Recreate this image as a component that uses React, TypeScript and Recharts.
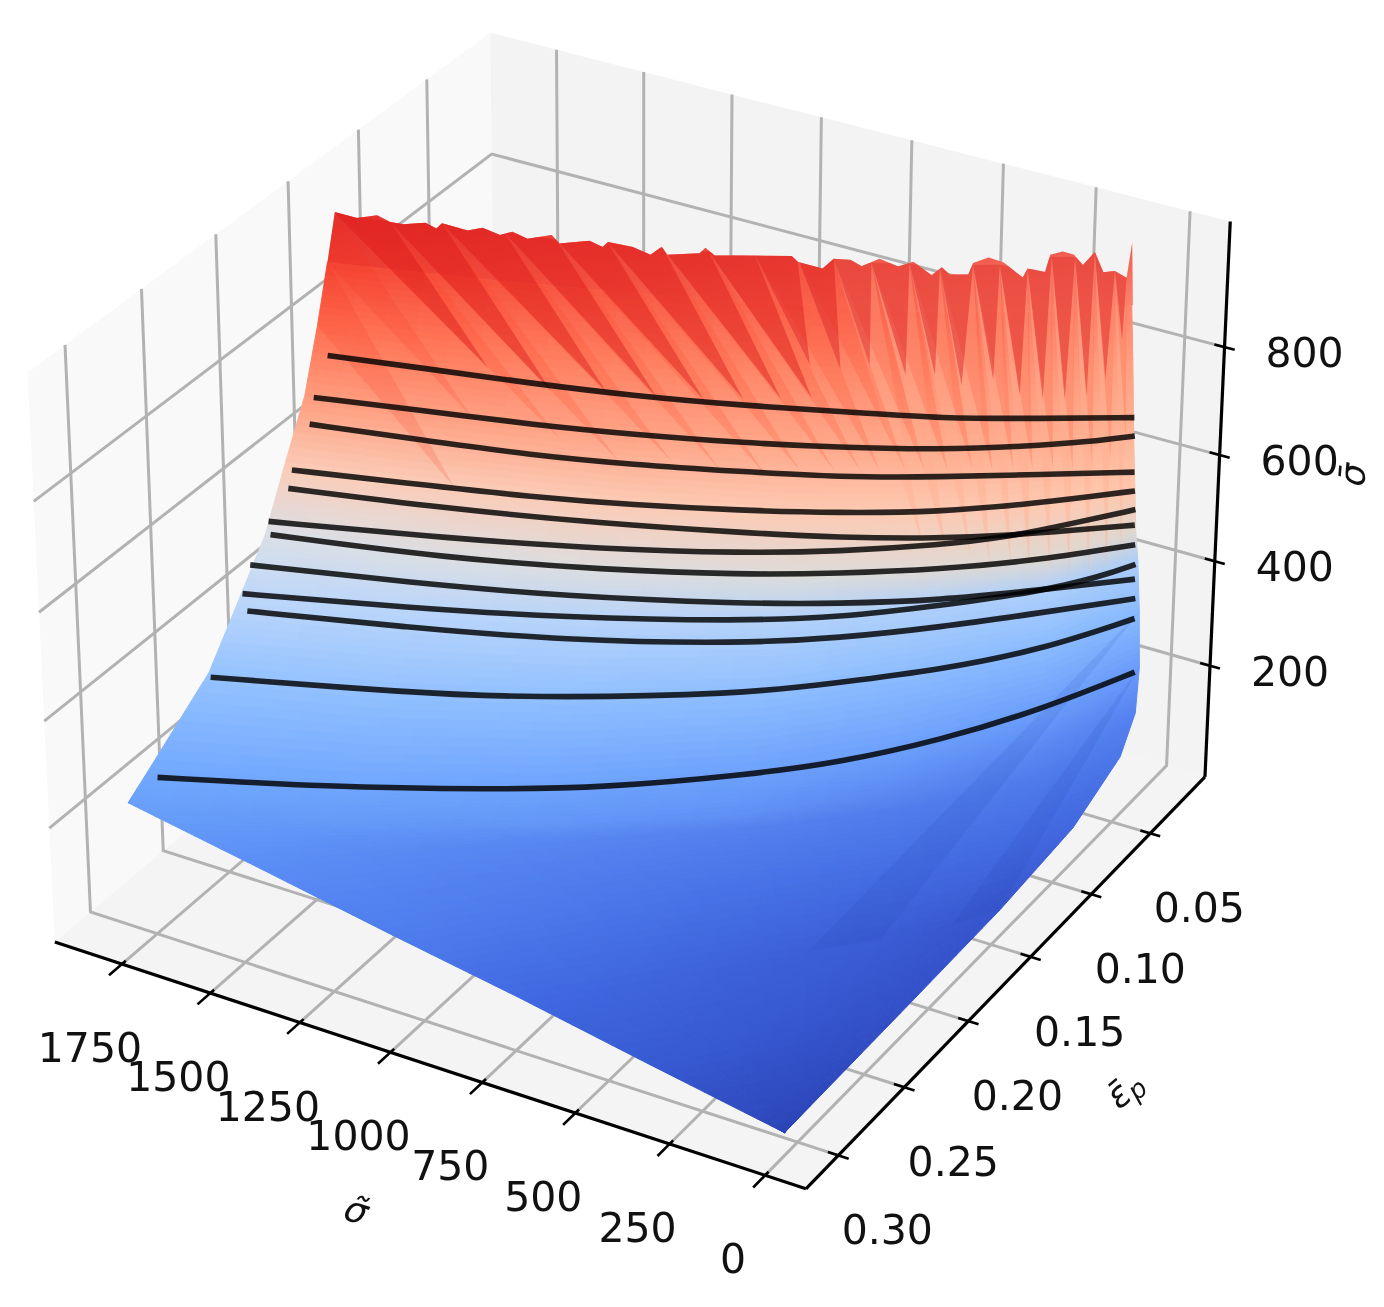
import { Curve, Line, LineChart, XAxis, YAxis } from "recharts"

// Axis limits and tick labels of the 3D box
const sigmaLimits = [-106, 1942]
const epsLimits = [0.0024, 0.324]
const stressLimits = [-16.6, 1028.4]
const sigmaTicks = [0, 250, 500, 750, 1000, 1250, 1500, 1750]
const epsTicks = [0.05, 0.1, 0.15, 0.2, 0.25, 0.3]
const epsTickLabels = ["0.05", "0.10", "0.15", "0.20", "0.25", "0.30"]
const stressTicks = [200, 400, 600, 800]

// Surface, read row by row from the bottom corner up to the rim
const rowSigma = [
  [17, 17, 17, 17, 17, 17, 17],
  [386, 313, 238, 164, 109, 53, 17],
  [744, 599, 453, 308, 199, 90, 17],
  [1094, 879, 664, 449, 286, 124, 17],
  [1457, 1169, 881, 593, 377, 161, 17],
  [1819, 1458, 1098, 736, 466, 196, 17],
  [1819, 1446, 1085, 722, 451, 179, 17],
  [1819, 1459, 1098, 738, 466, 197, 17],
  [1819, 1458, 1099, 737, 466, 198, 17],
  [1819, 1459, 1099, 737, 468, 197, 17],
  [1819, 1459, 1099, 739, 468, 199, 17],
  [1819, 1458, 1100, 739, 467, 197, 17],
  [1819, 1459, 1096, 736, 464, 198, 17],
  [1819, 1458, 1097, 734, 461, 196, 17],
]
const rowEps = [
  [0.305, 0.305, 0.305, 0.305, 0.305, 0.305, 0.305],
  [0.301, 0.283, 0.265, 0.246, 0.232, 0.217, 0.207],
  [0.298, 0.268, 0.237, 0.205, 0.18, 0.155, 0.138],
  [0.298, 0.257, 0.215, 0.171, 0.137, 0.102, 0.078],
  [0.298, 0.25, 0.201, 0.149, 0.109, 0.067, 0.039],
  [0.3, 0.25, 0.197, 0.142, 0.099, 0.056, 0.027],
  [0.285, 0.235, 0.184, 0.131, 0.091, 0.05, 0.025],
  [0.243, 0.202, 0.159, 0.116, 0.082, 0.049, 0.027],
  [0.22, 0.183, 0.146, 0.107, 0.078, 0.049, 0.03],
  [0.202, 0.169, 0.135, 0.1, 0.075, 0.049, 0.033],
  [0.188, 0.157, 0.126, 0.096, 0.072, 0.05, 0.035],
  [0.172, 0.144, 0.117, 0.09, 0.07, 0.05, 0.038],
  [0.162, 0.136, 0.111, 0.087, 0.069, 0.052, 0.041],
  [0.154, 0.13, 0.107, 0.085, 0.069, 0.053, 0.044],
]
const rowStress = [
  [10, 10, 10, 10, 10, 10, 10],
  [42, 32, 25, 19, 15, 15, 14],
  [78, 62, 50, 35, 22, 14, 18],
  [120, 111, 93, 68, 43, 28, 34],
  [166, 151, 118, 83, 69, 61, 81],
  [218, 145, 89, 56, 62, 92, 139],
  [248, 188, 144, 121, 127, 166, 222],
  [335, 282, 247, 232, 249, 279, 333],
  [429, 394, 364, 351, 366, 386, 434],
  [504, 461, 432, 420, 427, 448, 500],
  [598, 566, 540, 526, 531, 552, 578],
  [701, 670, 647, 642, 644, 659, 686],
  [810, 788, 776, 771, 773, 791, 822],
  [910, 895, 887, 890, 894, 911, 937],
]

// Jagged rim of the surface
const rimSigma = [1819, 1769, 1724, 1695, 1666, 1616, 1589, 1577, 1521, 1487, 1446, 1419, 1385, 1329, 1311, 1243, 1214, 1203, 1146, 1108, 1081, 1069, 995, 983, 961, 904, 787, 773, 717, 694, 656, 629, 588, 548, 514, 471, 448, 430, 390, 378, 344, 310, 265, 256, 216, 204, 175, 152, 130, 103, 85, 58, 30, 19, 17]
const rimEps = [0.148, 0.145, 0.142, 0.14, 0.138, 0.135, 0.134, 0.133, 0.129, 0.127, 0.125, 0.123, 0.121, 0.118, 0.117, 0.113, 0.111, 0.11, 0.107, 0.104, 0.103, 0.102, 0.098, 0.097, 0.096, 0.093, 0.086, 0.085, 0.082, 0.08, 0.078, 0.077, 0.075, 0.072, 0.07, 0.068, 0.067, 0.066, 0.063, 0.063, 0.061, 0.059, 0.057, 0.056, 0.054, 0.054, 0.053, 0.051, 0.05, 0.049, 0.047, 0.046, 0.045, 0.045, 0.043]
const rimStress = [990, 982, 989, 978, 975, 981, 973, 983, 972, 979, 969, 976, 965, 976, 962, 971, 961, 970, 965, 952, 969, 955, 963, 973, 961, 965, 971, 961, 953, 971, 972, 963, 980, 967, 978, 957, 974, 962, 963, 986, 998, 991, 968, 984, 981, 1014, 1023, 1018, 1001, 1027, 990, 995, 986, 1050, 935]

// Darker facets running down from the rim: start points, then where each one ends
const toothSigma = [1819, 1695, 1577, 1440, 1320, 1205, 1078, 974, 871, 776, 694, 606, 521, 453, 378, 317, 256, 200, 148, 103, 58, 30]
const toothEps = [0.148, 0.14, 0.133, 0.124, 0.117, 0.11, 0.103, 0.097, 0.091, 0.085, 0.08, 0.076, 0.071, 0.067, 0.063, 0.06, 0.056, 0.054, 0.051, 0.049, 0.046, 0.045]
const toothStress = [988, 978, 983, 975, 967, 970, 967, 968, 971, 971, 971, 971, 976, 972, 983, 988, 982, 1011, 1014, 1027, 995, 986]
const shortTipSigma = [1429, 1283, 1165, 1053, 951, 866, 784, 717, 727, 661, 596, 519, 453, 394, 326, 267, 218, 169, 121, 82, 45]
const shortTipEps = [0.139, 0.131, 0.122, 0.114, 0.106, 0.1, 0.094, 0.089, 0.088, 0.083, 0.079, 0.073, 0.069, 0.065, 0.06, 0.056, 0.052, 0.049, 0.046, 0.043, 0.042]
const shortTipStress = [756, 723, 727, 720, 717, 723, 727, 730, 787, 781, 793, 778, 781, 765, 777, 752, 745, 747, 758, 788, 865]
const longTipSigma = [1247, 1115, 1001, 896, 800, 727, 653, 600, 557, 504, 462, 413, 362, 318, 275, 233, 191, 148, 108, 70, 38]
const longTipEps = [0.134, 0.126, 0.117, 0.109, 0.101, 0.095, 0.089, 0.084, 0.081, 0.076, 0.073, 0.069, 0.064, 0.061, 0.057, 0.054, 0.05, 0.047, 0.043, 0.04, 0.038]
const longTipStress = [647, 615, 617, 605, 598, 607, 608, 609, 610, 611, 611, 612, 613, 613, 614, 615, 616, 616, 617, 637, 676]
// Pale stripes reaching lower down on the right hand side
const deepTipStress = [470, 460, 450, 440, 440, 430, 430, 420, 420, 430, 460]

// Facets starting on the left edge, three corners each
const leftFacetSigma = [1819, 1819, 1458, 1819, 1819, 1459]
const leftFacetEps = [0.154, 0.148, 0.144, 0.162, 0.154, 0.157]
const leftFacetStress = [910, 988, 670, 810, 910, 566]

// Darker stripes fanning along the lower right edge, three corners each
const fanSigma = [17, 17, 90, 17, 199, 308]
const fanEps = [0.025, 0.138, 0.155, 0.027, 0.18, 0.205]
const fanStress = [222, 18, 14, 333, 22, 35]

// The twelve measured curves lying on the surface
const curveSigma = [
  [1784, 1585, 1328, 1107, 872, 617, 437, 222, 17],
  [1798, 1568, 1311, 1093, 862, 647, 433, 256, 113, 17],
  [1791, 1553, 1299, 1083, 854, 641, 429, 218, 17],
  [1804, 1531, 1281, 1068, 842, 633, 424, 251, 111, 17],
  [1799, 1458, 1121, 835, 627, 420, 276, 146, 17],
  [1821, 1442, 1111, 829, 624, 419, 282, 146, 17],
  [1808, 1431, 1100, 821, 618, 415, 212, 17],
  [1827, 1493, 1165, 810, 609, 409, 209, 17],
  [1818, 1475, 1153, 803, 605, 408, 209, 88, 17],
  [1793, 1462, 1142, 795, 600, 404, 207, 17],
  [1807, 1411, 1181, 772, 586, 396, 203, 17],
  [1793, 1475, 1188, 976, 718, 558, 379, 197, 17],
]
const curveEps = [
  [0.164, 0.15, 0.133, 0.118, 0.101, 0.082, 0.069, 0.053, 0.038],
  [0.171, 0.155, 0.137, 0.121, 0.104, 0.087, 0.07, 0.055, 0.044, 0.037],
  [0.176, 0.159, 0.141, 0.124, 0.106, 0.088, 0.07, 0.052, 0.036],
  [0.186, 0.165, 0.146, 0.128, 0.109, 0.09, 0.071, 0.055, 0.043, 0.035],
  [0.19, 0.164, 0.136, 0.11, 0.091, 0.072, 0.058, 0.046, 0.034],
  [0.199, 0.168, 0.138, 0.112, 0.092, 0.072, 0.059, 0.046, 0.034],
  [0.201, 0.171, 0.141, 0.114, 0.094, 0.073, 0.052, 0.033],
  [0.211, 0.183, 0.153, 0.117, 0.096, 0.074, 0.052, 0.032],
  [0.219, 0.188, 0.156, 0.119, 0.097, 0.074, 0.052, 0.039, 0.032],
  [0.222, 0.192, 0.16, 0.121, 0.098, 0.075, 0.052, 0.031],
  [0.245, 0.205, 0.179, 0.127, 0.101, 0.076, 0.052, 0.031],
  [0.286, 0.246, 0.206, 0.175, 0.134, 0.109, 0.08, 0.053, 0.029],
]
const curveStress = [
  [765, 751, 734, 722, 713, 708, 704, 711, 720],
  [699, 686, 669, 659, 652, 648, 649, 657, 670, 684],
  [661, 642, 623, 611, 604, 596, 599, 606, 615],
  [594, 575, 559, 547, 540, 535, 537, 550, 566, 578],
  [569, 542, 519, 502, 492, 490, 494, 503, 512],
  [522, 498, 477, 469, 469, 478, 491, 516, 541],
  [504, 469, 447, 434, 433, 435, 447, 473],
  [465, 437, 410, 388, 382, 380, 391, 406],
  [430, 404, 379, 361, 359, 370, 388, 412, 434],
  [409, 378, 347, 324, 323, 332, 348, 367],
  [332, 294, 272, 245, 248, 255, 278, 329],
  [239, 195, 158, 134, 119, 118, 132, 166, 222],
]

// Surface colours per row, at its left end and its right end
const rowColorLeft = [[44, 69, 184], [55, 90, 210], [65, 105, 225], [78, 125, 238], [90, 140, 245], [105, 160, 250], [115, 170, 255], [150, 195, 255], [190, 215, 250], [218, 224, 232], [250, 205, 185], [255, 155, 125], [255, 110, 80], [245, 70, 52]]
const rowColorRight = [[44, 69, 184], [50, 80, 200], [55, 85, 205], [65, 102, 222], [75, 118, 232], [85, 130, 240], [105, 155, 250], [135, 185, 255], [170, 205, 250], [225, 215, 205], [255, 200, 175], [255, 180, 150], [255, 160, 130], [255, 135, 110]]

const W = 1384
const H = 1307
const FONT = "'DejaVu Sans'"

// Same camera matplotlib uses for elev=30, azim=-60, looking at a 4:4:3 box
const boxScale = (1.8294640721620434 * 25) / 24 / Math.sqrt(41)
const pxPerX = 7228
const pxPerY = 7270
const xDomain = [-640.5 / pxPerX, (W - 640.5) / pxPerX]
const yDomain = [(583 - H) / pxPerY, 583 / pxPerY]

const project = (sigma: number, eps: number, stress: number) => {
  const a = ((sigmaLimits[1] - sigma) / (sigmaLimits[1] - sigmaLimits[0]) - 0.5) * 4 * boxScale
  const b = ((epsLimits[1] - eps) / (epsLimits[1] - epsLimits[0]) - 0.5) * 4 * boxScale
  const c = ((stress - stressLimits[0]) / (stressLimits[1] - stressLimits[0]) - 0.5) * 3 * boxScale
  const depth = 10 - (0.4330127 * a - 0.75 * b + 0.5 * c)
  return {
    x: (0.8660254 * a + 0.5 * b) / depth,
    y: (-0.25 * a + 0.4330127 * b + 0.8660254 * c) / depth,
  }
}

const [sMin, sMax] = sigmaLimits
const [eMin, eMax] = epsLimits
const [zMin, zMax] = stressLimits

const path3d = (pts: number[][]) => pts.map((p) => project(p[0], p[1], p[2]))
const series = (s: number[], e: number[], z: number[]) => s.map((v, i) => project(v, e[i], z[i]))

const surfaceData = rowSigma.flatMap((row, r) => series(row, rowEps[r], rowStress[r]))
const rimData = series(rimSigma, rimEps, rimStress)
const topRowData = series(rowSigma[13], rowEps[13], rowStress[13])
const capData = [...rimData, ...topRowData.slice().reverse()]
const teeth = series(toothSigma, toothEps, toothStress)
const shortTips = series(shortTipSigma, shortTipEps, shortTipStress)
const longTips = series(longTipSigma, longTipEps, longTipStress)
const deepTips = series(longTipSigma.slice(10), longTipEps.slice(10), deepTipStress)
const leftFacets = series(leftFacetSigma, leftFacetEps, leftFacetStress)
const fanFacets = series(fanSigma, fanEps, fanStress)
const wedges = (tips: { x: number; y: number }[], from = 0) =>
  tips.flatMap((tip, i) => [teeth[from + i], teeth[from + i + 1], tip])

// Outline of the whole surface, used to clip what is drawn over it
const outlineData = [
  ...rimData,
  ...rowSigma.map((_, r) => project(rowSigma[r][6], rowEps[r][6], rowStress[r][6])).reverse(),
  ...rowSigma.map((_, r) => project(rowSigma[r][0], rowEps[r][0], rowStress[r][0])),
]

const panes = [
  { fill: "#f9f9f9", pts: [[sMax, eMin, zMin], [sMax, eMax, zMin], [sMax, eMax, zMax], [sMax, eMin, zMax]] },
  { fill: "#f3f3f3", pts: [[sMin, eMin, zMin], [sMax, eMin, zMin], [sMax, eMin, zMax], [sMin, eMin, zMax]] },
  { fill: "#f4f4f4", pts: [[sMin, eMax, zMin], [sMin, eMin, zMin], [sMax, eMin, zMin], [sMax, eMax, zMin]] },
]

const gridLines = [
  ...sigmaTicks.map((t) => [[t, eMax, zMin], [t, eMin, zMin], [t, eMin, zMax]]),
  ...epsTicks.map((t) => [[sMin, t, zMin], [sMax, t, zMin], [sMax, t, zMax]]),
  ...stressTicks.map((t) => [[sMin, eMin, t], [sMax, eMin, t], [sMax, eMax, t]]),
]
const axisLines = [
  [[sMax, eMax, zMin], [sMin, eMax, zMin]],
  [[sMin, eMax, zMin], [sMin, eMin, zMin]],
  [[sMin, eMin, zMin], [sMin, eMin, zMax]],
]
const tickMarks = [
  ...sigmaTicks.map((t) => [[t, eMax + 0.0087, zMin], [t, eMax - 0.0026, zMin]]),
  ...epsTicks.map((t) => [[sMin - 27, t, zMin], [sMin + 27, t, zMin]]),
  ...stressTicks.map((t) => [[sMin - 27, eMin, t], [sMin + 27, eMin, t]]),
]

const tickLabels = [
  ...sigmaTicks.map((t) => ({ ...project(t, eMax, zMin), text: String(t), dx: -32, dy: 84 })),
  ...epsTicks.map((t, i) => ({ ...project(sMin, t, zMin), text: epsTickLabels[i], dx: 49, dy: 75 })),
  ...stressTicks.map((t) => ({ ...project(sMin, eMin, t), text: String(t), dx: 80, dy: 6 })),
]

const axisTitles = [
  { ...project(918, eMax, zMin), text: "\u03C3\u0303", sub: "", dx: -64, dy: 148, angle: 18 },
  { ...project(sMin, 0.163, zMin), text: "\u03B5\u0304", sub: "p", dx: 110, dy: 116, angle: -40 },
  { ...project(sMin, eMin, 516), text: "\u03C3\u0304", sub: "", dx: 135, dy: -25, angle: -85 },
]

const lerp = (a: number, b: number, f: number) => a + (b - a) * f
const rowColor = (r: number, f: number) => rowColorLeft[r].map((v, i) => lerp(v, rowColorRight[r][i], f))
const toPoints = (pts: { x: number; y: number }[]) => pts.map((p) => `${p.x},${p.y}`).join(" ")

// Small flat facets inside each read cell, so colour runs on across cell borders
const SPLIT_ALONG = 5
const SPLIT_ACROSS = 10

// The dot callback gets every projected point of its series, so polygons can use the chart's scales
const SurfaceCells = (props: any) => {
  const { index, points } = props
  const cols = rowSigma[0].length
  const r = Math.floor(index / cols)
  const c = index % cols
  if (r >= rowSigma.length - 1 || c >= cols - 1) return <g key={index} />
  const a = points[index]
  const b = points[index + 1]
  const d = points[index + cols]
  const e = points[index + cols + 1]
  const at = (u: number, v: number) => ({
    x: lerp(lerp(a.x, b.x, u), lerp(d.x, e.x, u), v),
    y: lerp(lerp(a.y, b.y, u), lerp(d.y, e.y, u), v),
  })
  const facets = []
  for (let i = 0; i < SPLIT_ALONG; i++) {
    for (let j = 0; j < SPLIT_ACROSS; j++) {
      const u0 = i / SPLIT_ALONG
      const u1 = (i + 1) / SPLIT_ALONG
      const v0 = j / SPLIT_ACROSS
      const v1 = (j + 1) / SPLIT_ACROSS
      const f = (c + (u0 + u1) / 2) / (cols - 1)
      const low = rowColor(r, f)
      const high = rowColor(r + 1, f)
      const col = low.map((v, k) => Math.round(lerp(v, high[k], (v0 + v1) / 2)))
      const fill = `rgb(${col.join(",")})`
      facets.push(<polygon key={`${i}-${j}`} points={toPoints([at(u0, v0), at(u1, v0), at(u1, v1), at(u0, v1)])} fill={fill} stroke={fill} strokeWidth={1} />)
    }
  }
  return <g key={index}>{facets}</g>
}

const polygonDot = (fill: string) => (props: any) => {
  if (props.index !== 0) return <g key={props.index} />
  return <polygon key="poly" points={toPoints(props.points)} fill={fill} />
}

const triangleDot = (fill: string) => (props: any) => {
  if (props.index % 3 !== 0) return <g key={props.index} />
  return <polygon key={props.index} points={toPoints(props.points.slice(props.index, props.index + 3))} fill={fill} clipPath="url(#surfaceClip)" />
}

const clipDot = (props: any) => {
  if (props.index !== 0) return <g key={props.index} />
  return (
    <clipPath id="surfaceClip" key="clip">
      <polygon points={toPoints(props.points)} />
    </clipPath>
  )
}

const strokeDot = (stroke: string, width: number, opacity = 1, type: any = "linear") => (props: any) => {
  if (props.index !== 0) return <g key={props.index} />
  return <Curve key="curve" type={type} points={props.points} stroke={stroke} strokeWidth={width} strokeOpacity={opacity} fill="none" />
}

const LabelDot = (props: any) => {
  const { cx, cy, payload, index } = props
  return (
    <text key={index} x={cx + payload.dx} y={cy + payload.dy} textAnchor="middle" dominantBaseline="central" fontFamily={FONT} fontSize={41} fill="#111">
      {payload.text}
    </text>
  )
}

const TitleDot = (props: any) => {
  const { cx, cy, payload, index } = props
  const x = cx + payload.dx
  const y = cy + payload.dy
  return (
    <text key={index} x={x} y={y} textAnchor="middle" dominantBaseline="central" fontFamily={FONT} fontStyle="italic" fontSize={36} fill="#111" transform={`rotate(${payload.angle} ${x} ${y})`}>
      {payload.text}
      {payload.sub ? <tspan fontSize={26} dy={8}>{payload.sub}</tspan> : null}
    </text>
  )
}

const hiddenLine = { dataKey: "y", stroke: "none", isAnimationActive: false, activeDot: false, legendType: "none" as const }

export default function App() {
  return (
    <div style={{ position: "absolute", left: 0, top: 0, width: W, height: H, background: "#fff", filter: "blur(0.6px)" }}>
      <LineChart width={W} height={H} margin={{ top: 0, right: 0, bottom: 0, left: 0 }}>
        <defs>
          <linearGradient id="capBase" x1="0" y1="0" x2="1" y2="0">
            <stop offset="0" stopColor="rgb(245,70,52)" />
            <stop offset="1" stopColor="rgb(255,135,110)" />
          </linearGradient>
          <linearGradient id="capTop" x1="0" y1="0" x2="0" y2="1">
            <stop offset="0" stopColor="#d81e28" stopOpacity={0.6} />
            <stop offset="1" stopColor="#d81e28" stopOpacity={0} />
          </linearGradient>
        </defs>
        <XAxis dataKey="x" type="number" domain={xDomain} allowDataOverflow hide />
        <YAxis type="number" domain={yDomain} allowDataOverflow hide />

        <Line {...hiddenLine} data={outlineData} dot={clipDot} />
        {panes.map((pane, i) => (
          <Line key={`pane-${i}`} {...hiddenLine} data={path3d(pane.pts)} dot={polygonDot(pane.fill)} />
        ))}
        {gridLines.map((g, i) => (
          <Line key={`grid-${i}`} {...hiddenLine} data={path3d(g)} dot={strokeDot("#b2b2b2", 3)} />
        ))}
        {axisLines.map((g, i) => (
          <Line key={`axis-${i}`} {...hiddenLine} data={path3d(g)} dot={strokeDot("#000", 3.2)} />
        ))}
        {tickMarks.map((g, i) => (
          <Line key={`tick-${i}`} {...hiddenLine} data={path3d(g)} dot={strokeDot("#000", 2.6)} />
        ))}

        <Line {...hiddenLine} data={surfaceData} dot={SurfaceCells} />
        <Line {...hiddenLine} data={capData} dot={polygonDot("url(#capBase)")} />
        <Line {...hiddenLine} data={capData} dot={polygonDot("url(#capTop)")} />
        <Line {...hiddenLine} data={fanFacets} dot={triangleDot("rgba(30,55,170,0.1)")} />
        <Line {...hiddenLine} data={leftFacets} dot={triangleDot("rgba(245,50,30,0.16)")} />
        <Line {...hiddenLine} data={wedges(deepTips, 10)} dot={triangleDot("rgba(255,175,145,0.4)")} />
        <Line {...hiddenLine} data={wedges(longTips)} dot={triangleDot("rgba(255,70,40,0.2)")} />
        <Line {...hiddenLine} data={wedges(shortTips)} dot={triangleDot("rgba(215,20,25,0.42)")} />

        {curveSigma.map((s, i) => (
          <Line key={`curve-${i}`} {...hiddenLine} data={series(s, curveEps[i], curveStress[i])} dot={strokeDot("#000", 5.6, 0.82, "basis")} />
        ))}

        <Line {...hiddenLine} data={tickLabels} dot={LabelDot} />
        <Line {...hiddenLine} data={axisTitles} dot={TitleDot} />
      </LineChart>
    </div>
  )
}
